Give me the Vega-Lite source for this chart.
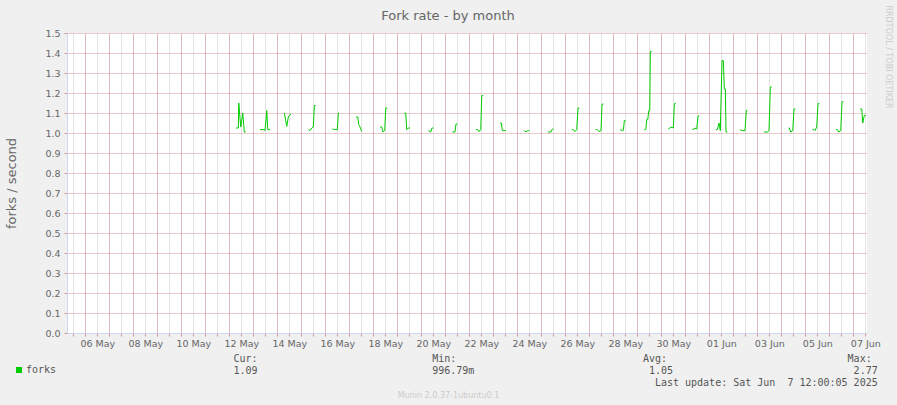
{
  "$schema": "https://vega.github.io/schema/vega-lite/v6.json",
  "width": 800,
  "height": 300,
  "autosize": {"type": "none"},
  "padding": {"left": 67, "top": 33, "right": 30, "bottom": 72},
  "background": "#F0F0F0",
  "title": {"text": "Fork rate - by month", "anchor": "middle", "frame": "group", "font": "DejaVu Sans", "fontSize": 13, "fontWeight": "normal", "color": "#666666", "baseline": "alphabetic", "offset": -28, "dx": -19},
  "config": {
    "view": {"fill": "white", "stroke": null},
    "axis": {"labelFont": "DejaVu Sans", "labelFontSize": 9.5, "labelColor": "#666666", "titleFont": "DejaVu Sans", "titleFontWeight": "normal", "titleColor": "#666666"}
  },
  "data": {"values": [
    {"t": "2025-05-12T06:40", "v": 1.025, "s": 1}, {"t": "2025-05-12T09:00", "v": 1.025, "s": 1}, {"t": "2025-05-12T09:25", "v": 1.15, "s": 1}, {"t": "2025-05-12T11:25", "v": 1.03, "s": 1}, {"t": "2025-05-12T13:25", "v": 1.10, "s": 1}, {"t": "2025-05-12T15:00", "v": 1.005, "s": 1}, {"t": "2025-05-12T16:25", "v": 1.005, "s": 1},
    {"t": "2025-05-13T06:40", "v": 1.017, "s": 2}, {"t": "2025-05-13T11:00", "v": 1.017, "s": 2}, {"t": "2025-05-13T11:40", "v": 1.012, "s": 2}, {"t": "2025-05-13T13:25", "v": 1.112, "s": 2}, {"t": "2025-05-13T14:25", "v": 1.017, "s": 2}, {"t": "2025-05-13T16:40", "v": 1.017, "s": 2},
    {"t": "2025-05-14T07:00", "v": 1.10, "s": 3}, {"t": "2025-05-14T09:25", "v": 1.033, "s": 3}, {"t": "2025-05-14T11:00", "v": 1.08, "s": 3}, {"t": "2025-05-14T12:40", "v": 1.092, "s": 3}, {"t": "2025-05-14T13:40", "v": 1.092, "s": 3},
    {"t": "2025-05-15T07:00", "v": 1.017, "s": 4}, {"t": "2025-05-15T08:40", "v": 1.012, "s": 4}, {"t": "2025-05-15T10:25", "v": 1.025, "s": 4}, {"t": "2025-05-15T12:00", "v": 1.03, "s": 4}, {"t": "2025-05-15T13:00", "v": 1.137, "s": 4}, {"t": "2025-05-15T14:25", "v": 1.137, "s": 4},
    {"t": "2025-05-16T07:00", "v": 1.02, "s": 5}, {"t": "2025-05-16T09:00", "v": 1.017, "s": 5}, {"t": "2025-05-16T12:00", "v": 1.017, "s": 5}, {"t": "2025-05-16T13:00", "v": 1.10, "s": 5}, {"t": "2025-05-16T13:40", "v": 1.10, "s": 5},
    {"t": "2025-05-17T06:40", "v": 1.08, "s": 6}, {"t": "2025-05-17T08:25", "v": 1.08, "s": 6}, {"t": "2025-05-17T09:25", "v": 1.042, "s": 6}, {"t": "2025-05-17T10:40", "v": 1.03, "s": 6}, {"t": "2025-05-17T12:25", "v": 1.008, "s": 6},
    {"t": "2025-05-18T06:40", "v": 1.03, "s": 7}, {"t": "2025-05-18T08:25", "v": 1.03, "s": 7}, {"t": "2025-05-18T09:40", "v": 1.005, "s": 7}, {"t": "2025-05-18T11:25", "v": 1.013, "s": 7}, {"t": "2025-05-18T12:25", "v": 1.125, "s": 7}, {"t": "2025-05-18T14:00", "v": 1.125, "s": 7},
    {"t": "2025-05-19T07:00", "v": 1.10, "s": 8}, {"t": "2025-05-19T08:25", "v": 1.10, "s": 8}, {"t": "2025-05-19T09:25", "v": 1.017, "s": 8}, {"t": "2025-05-19T11:00", "v": 1.025, "s": 8}, {"t": "2025-05-19T12:40", "v": 1.025, "s": 8},
    {"t": "2025-05-20T07:00", "v": 1.012, "s": 9}, {"t": "2025-05-20T09:25", "v": 1.005, "s": 9}, {"t": "2025-05-20T10:40", "v": 1.025, "s": 9}, {"t": "2025-05-20T12:00", "v": 1.025, "s": 9},
    {"t": "2025-05-21T07:00", "v": 1.005, "s": 10}, {"t": "2025-05-21T09:40", "v": 1.005, "s": 10}, {"t": "2025-05-21T10:40", "v": 1.045, "s": 10}, {"t": "2025-05-21T12:00", "v": 1.045, "s": 10},
    {"t": "2025-05-22T06:40", "v": 1.017, "s": 11}, {"t": "2025-05-22T08:25", "v": 1.017, "s": 11}, {"t": "2025-05-22T09:40", "v": 1.007, "s": 11}, {"t": "2025-05-22T11:25", "v": 1.017, "s": 11}, {"t": "2025-05-22T12:25", "v": 1.187, "s": 11}, {"t": "2025-05-22T14:00", "v": 1.187, "s": 11},
    {"t": "2025-05-23T06:40", "v": 1.05, "s": 12}, {"t": "2025-05-23T08:00", "v": 1.05, "s": 12}, {"t": "2025-05-23T09:00", "v": 1.012, "s": 12}, {"t": "2025-05-23T12:25", "v": 1.012, "s": 12},
    {"t": "2025-05-24T06:40", "v": 1.012, "s": 13}, {"t": "2025-05-24T08:40", "v": 1.005, "s": 13}, {"t": "2025-05-24T10:25", "v": 1.012, "s": 13}, {"t": "2025-05-24T12:00", "v": 1.012, "s": 13},
    {"t": "2025-05-25T06:25", "v": 1.005, "s": 14}, {"t": "2025-05-25T09:40", "v": 1.005, "s": 14}, {"t": "2025-05-25T11:00", "v": 1.02, "s": 14}, {"t": "2025-05-25T12:00", "v": 1.02, "s": 14},
    {"t": "2025-05-26T06:25", "v": 1.017, "s": 15}, {"t": "2025-05-26T08:00", "v": 1.017, "s": 15}, {"t": "2025-05-26T09:25", "v": 1.007, "s": 15}, {"t": "2025-05-26T11:25", "v": 1.017, "s": 15}, {"t": "2025-05-26T12:40", "v": 1.125, "s": 15}, {"t": "2025-05-26T14:00", "v": 1.125, "s": 15},
    {"t": "2025-05-27T06:25", "v": 1.017, "s": 16}, {"t": "2025-05-27T08:00", "v": 1.017, "s": 16}, {"t": "2025-05-27T09:40", "v": 1.007, "s": 16}, {"t": "2025-05-27T11:40", "v": 1.012, "s": 16}, {"t": "2025-05-27T12:40", "v": 1.145, "s": 16}, {"t": "2025-05-27T14:00", "v": 1.145, "s": 16},
    {"t": "2025-05-28T06:40", "v": 1.017, "s": 17}, {"t": "2025-05-28T09:00", "v": 1.012, "s": 17}, {"t": "2025-05-28T10:00", "v": 1.013, "s": 17}, {"t": "2025-05-28T11:00", "v": 1.062, "s": 17}, {"t": "2025-05-28T12:25", "v": 1.062, "s": 17},
    {"t": "2025-05-29T07:00", "v": 1.017, "s": 18}, {"t": "2025-05-29T08:25", "v": 1.017, "s": 18}, {"t": "2025-05-29T09:25", "v": 1.067, "s": 18}, {"t": "2025-05-29T10:25", "v": 1.067, "s": 18}, {"t": "2025-05-29T11:25", "v": 1.112, "s": 18}, {"t": "2025-05-29T12:25", "v": 1.112, "s": 18}, {"t": "2025-05-29T13:00", "v": 1.408, "s": 18}, {"t": "2025-05-29T14:25", "v": 1.408, "s": 18},
    {"t": "2025-05-30T07:00", "v": 1.02, "s": 19}, {"t": "2025-05-30T08:40", "v": 1.025, "s": 19}, {"t": "2025-05-30T09:40", "v": 1.03, "s": 19}, {"t": "2025-05-30T12:00", "v": 1.025, "s": 19}, {"t": "2025-05-30T13:00", "v": 1.147, "s": 19}, {"t": "2025-05-30T14:25", "v": 1.147, "s": 19},
    {"t": "2025-05-31T07:00", "v": 1.017, "s": 20}, {"t": "2025-05-31T08:40", "v": 1.02, "s": 20}, {"t": "2025-05-31T09:40", "v": 1.025, "s": 20}, {"t": "2025-05-31T11:25", "v": 1.02, "s": 20}, {"t": "2025-05-31T12:40", "v": 1.085, "s": 20}, {"t": "2025-05-31T14:00", "v": 1.085, "s": 20},
    {"t": "2025-06-01T06:40", "v": 1.017, "s": 21}, {"t": "2025-06-01T08:00", "v": 1.017, "s": 21}, {"t": "2025-06-01T09:40", "v": 1.05, "s": 21}, {"t": "2025-06-01T11:00", "v": 1.012, "s": 21}, {"t": "2025-06-01T12:40", "v": 1.362, "s": 21}, {"t": "2025-06-01T14:00", "v": 1.362, "s": 21}, {"t": "2025-06-01T15:00", "v": 1.22, "s": 21}, {"t": "2025-06-01T16:00", "v": 1.22, "s": 21}, {"t": "2025-06-01T16:40", "v": 1.005, "s": 21}, {"t": "2025-06-01T18:00", "v": 1.005, "s": 21},
    {"t": "2025-06-02T06:40", "v": 1.017, "s": 22}, {"t": "2025-06-02T08:25", "v": 1.012, "s": 22}, {"t": "2025-06-02T11:40", "v": 1.012, "s": 22}, {"t": "2025-06-02T13:00", "v": 1.113, "s": 22}, {"t": "2025-06-02T14:00", "v": 1.113, "s": 22},
    {"t": "2025-06-03T06:40", "v": 1.005, "s": 23}, {"t": "2025-06-03T10:00", "v": 1.005, "s": 23}, {"t": "2025-06-03T11:40", "v": 1.012, "s": 23}, {"t": "2025-06-03T13:00", "v": 1.23, "s": 23}, {"t": "2025-06-03T14:25", "v": 1.23, "s": 23},
    {"t": "2025-06-04T07:00", "v": 1.025, "s": 24}, {"t": "2025-06-04T08:00", "v": 1.025, "s": 24}, {"t": "2025-06-04T09:25", "v": 1.005, "s": 24}, {"t": "2025-06-04T11:25", "v": 1.012, "s": 24}, {"t": "2025-06-04T12:40", "v": 1.12, "s": 24}, {"t": "2025-06-04T14:00", "v": 1.12, "s": 24},
    {"t": "2025-06-05T07:00", "v": 1.017, "s": 25}, {"t": "2025-06-05T08:40", "v": 1.017, "s": 25}, {"t": "2025-06-05T09:40", "v": 1.012, "s": 25}, {"t": "2025-06-05T11:25", "v": 1.03, "s": 25}, {"t": "2025-06-05T12:40", "v": 1.147, "s": 25}, {"t": "2025-06-05T14:00", "v": 1.147, "s": 25},
    {"t": "2025-06-06T06:40", "v": 1.017, "s": 26}, {"t": "2025-06-06T08:00", "v": 1.017, "s": 26}, {"t": "2025-06-06T09:25", "v": 1.005, "s": 26}, {"t": "2025-06-06T11:25", "v": 1.012, "s": 26}, {"t": "2025-06-06T12:40", "v": 1.157, "s": 26}, {"t": "2025-06-06T14:00", "v": 1.157, "s": 26},
    {"t": "2025-06-07T06:40", "v": 1.12, "s": 27}, {"t": "2025-06-07T08:25", "v": 1.12, "s": 27}, {"t": "2025-06-07T09:25", "v": 1.05, "s": 27}, {"t": "2025-06-07T11:00", "v": 1.088, "s": 27}, {"t": "2025-06-07T12:25", "v": 1.088, "s": 27}
  ]},
  "layer": [
    {
      "mark": {"type": "line", "strokeWidth": 1, "clip": true},
      "encoding": {
        "x": {
          "field": "t", "type": "temporal",
          "scale": {"domain": [{"year": 2025, "month": 5, "date": 5, "hours": 5, "minutes": 40}, {"year": 2025, "month": 6, "date": 7, "hours": 13, "minutes": 40}], "nice": false},
          "axis": {
            "orient": "bottom",
            "tickCount": 66,
            "labelExpr": "hours(datum.value) == 12 && ((month(datum.value) == 4 && date(datum.value) % 2 == 0) || (month(datum.value) == 5 && date(datum.value) % 2 == 1)) ? timeFormat(datum.value, '%d %b') : ''",
            "labelOverlap": false, "labelBound": false, "labelFlush": false, "labelAngle": 0, "labelPadding": 2,
            "tickSize": 3, "tickColor": "#D49494",
            "grid": true, "gridColor": "#C8C8C8",
            "gridDash": [1, 1], "gridWidth": 1,
            "domainColor": "#CFD6F8", "domainWidth": 1,
            "title": [
              "Cur:\u00a0\u00a0\u00a0\u00a0\u00a0\u00a0\u00a0\u00a0\u00a0\u00a0\u00a0\u00a0\u00a0\u00a0\u00a0\u00a0\u00a0\u00a0\u00a0\u00a0\u00a0\u00a0\u00a0\u00a0\u00a0\u00a0\u00a0\u00a0\u00a0Min:\u00a0\u00a0\u00a0\u00a0\u00a0\u00a0\u00a0\u00a0\u00a0\u00a0\u00a0\u00a0\u00a0\u00a0\u00a0\u00a0\u00a0\u00a0\u00a0\u00a0\u00a0\u00a0\u00a0\u00a0\u00a0\u00a0\u00a0\u00a0\u00a0\u00a0\u00a0Avg:\u00a0\u00a0\u00a0\u00a0\u00a0\u00a0\u00a0\u00a0\u00a0\u00a0\u00a0\u00a0\u00a0\u00a0\u00a0\u00a0\u00a0\u00a0\u00a0\u00a0\u00a0\u00a0\u00a0\u00a0\u00a0\u00a0\u00a0\u00a0\u00a0\u00a0Max:",
              "1.09\u00a0\u00a0\u00a0\u00a0\u00a0\u00a0\u00a0\u00a0\u00a0\u00a0\u00a0\u00a0\u00a0\u00a0\u00a0\u00a0\u00a0\u00a0\u00a0\u00a0\u00a0\u00a0\u00a0\u00a0\u00a0\u00a0\u00a0\u00a0\u00a0996.79m\u00a0\u00a0\u00a0\u00a0\u00a0\u00a0\u00a0\u00a0\u00a0\u00a0\u00a0\u00a0\u00a0\u00a0\u00a0\u00a0\u00a0\u00a0\u00a0\u00a0\u00a0\u00a0\u00a0\u00a0\u00a0\u00a0\u00a0\u00a0\u00a01.05\u00a0\u00a0\u00a0\u00a0\u00a0\u00a0\u00a0\u00a0\u00a0\u00a0\u00a0\u00a0\u00a0\u00a0\u00a0\u00a0\u00a0\u00a0\u00a0\u00a0\u00a0\u00a0\u00a0\u00a0\u00a0\u00a0\u00a0\u00a0\u00a0\u00a02.77",
              "\u200b\u00a0\u00a0\u00a0\u00a0\u00a0\u00a0\u00a0\u00a0\u00a0\u00a0\u00a0\u00a0\u00a0\u00a0\u00a0\u00a0\u00a0\u00a0\u00a0\u00a0\u00a0\u00a0\u00a0\u00a0\u00a0\u00a0\u00a0\u00a0\u00a0\u00a0\u00a0\u00a0\u00a0\u00a0\u00a0\u00a0\u00a0\u00a0\u00a0\u00a0\u00a0\u00a0\u00a0\u00a0\u00a0\u00a0\u00a0\u00a0\u00a0\u00a0\u00a0\u00a0\u00a0\u00a0\u00a0\u00a0\u00a0\u00a0\u00a0\u00a0\u00a0\u00a0\u00a0\u00a0\u00a0\u00a0\u00a0\u00a0\u00a0\u00a0Last update: Sat Jun\u00a0\u00a07 12:00:05 2025"
            ],
            "titleFont": "DejaVu Sans Mono", "titleFontSize": 10, "titleColor": "#555555",
            "titleAlign": "left", "titleAnchor": "start", "titleBaseline": "alphabetic",
            "titleLineHeight": 12, "titleX": 166, "titleY": 28, "titleLimit": 1000
          }
        },
        "y": {
          "field": "v", "type": "quantitative",
          "scale": {"domain": [0, 1.5], "nice": false, "zero": true},
          "axis": {
            "orient": "left",
            "values": [0, 0.1, 0.2, 0.3, 0.4, 0.5, 0.6, 0.7, 0.8, 0.9, 1.0, 1.1, 1.2, 1.3, 1.4, 1.5],
            "format": ".1f",
            "tickSize": 3, "tickColor": "#D49494", "labelPadding": 4,
            "grid": true, "gridColor": "#D49494", "gridDash": [1, 1], "gridWidth": 1,
            "domainColor": "#CFD6F8", "domainWidth": 1,
            "title": "forks / second", "titleFontSize": 13,
            "titleAngle": -90, "titleX": -52, "titleY": 150, "titleAlign": "center", "titleBaseline": "alphabetic"
          }
        },
        "detail": {"field": "s", "type": "nominal"},
        "color": {
          "datum": "forks", "type": "nominal",
          "scale": {"domain": ["forks"], "range": ["#00CC00"]},
          "legend": {
            "orient": "none", "legendX": -53, "legendY": 332, "title": null,
            "symbolType": "square", "symbolSize": 36, "symbolStrokeWidth": 0, "symbolFillColor": "#00CC00", "symbolStrokeColor": "#00CC00", "symbolOpacity": 1,
            "labelFont": "DejaVu Sans Mono", "labelFontSize": 10, "labelColor": "#555555", "labelOffset": 2,
            "padding": 0, "rowPadding": 0
          }
        }
      }
    },
    {
      "mark": {"type": "line", "opacity": 0},
      "encoding": {
        "x": {
          "field": "t", "type": "temporal",
          "axis": {"orient": "top", "labels": false, "ticks": false, "domain": false,
            "tickCount": 33, "grid": true, "gridColor": "#D49494", "gridDash": [1, 1], "gridWidth": 1,
            "title": "Munin 2.0.37-1ubuntu0.1", "titleFont": "DejaVu Sans", "titleFontSize": 8, "titleColor": "#CCCCCC",
            "titleX": 381, "titleY": 364, "titleAlign": "center", "titleBaseline": "alphabetic"}
        },
        "y": {
          "field": "v", "type": "quantitative",
          "axis": {"orient": "right", "labels": false, "ticks": false, "domain": false, "grid": false,
            "title": "RRDTOOL / TOBI OETIKER", "titleFont": "DejaVu Sans", "titleFontSize": 8, "titleColor": "#CCCCCC",
            "titleAngle": 90, "titleX": 18, "titleY": -28, "titleAlign": "left", "titleBaseline": "alphabetic"}
        },
        "detail": {"field": "s", "type": "nominal"}
      }
    }
  ],
  "resolve": {"axis": {"x": "independent", "y": "independent"}}
}
